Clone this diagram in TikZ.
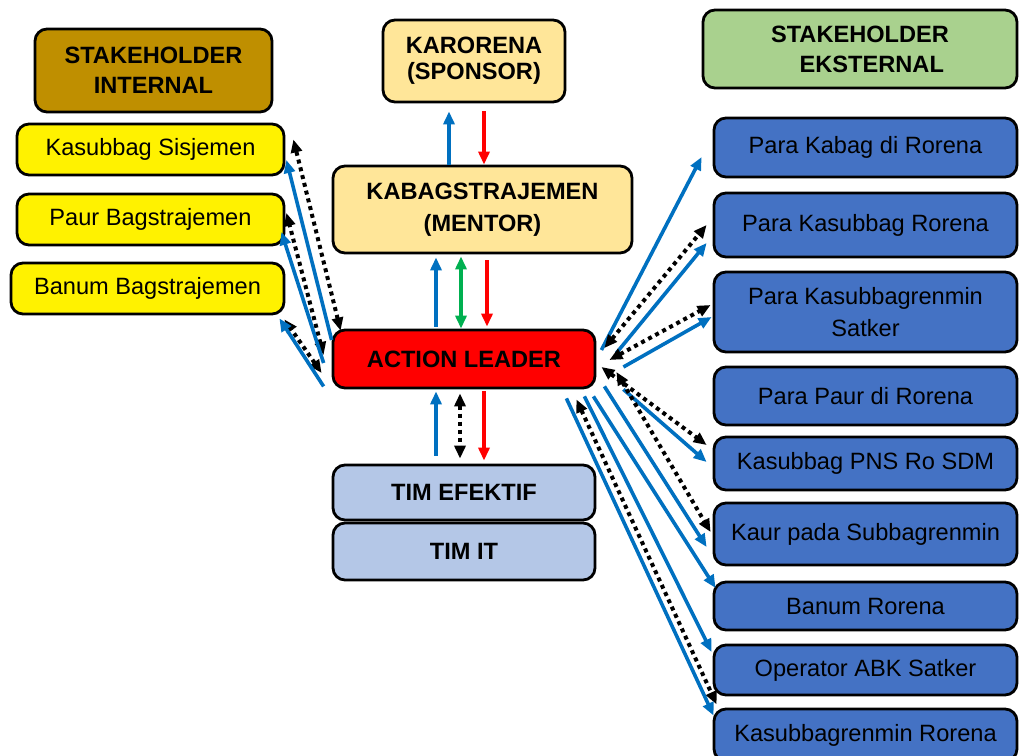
\documentclass[tikz,border=0pt]{standalone}
\usepackage{fontspec}
\setmainfont{Liberation Sans}
\usetikzlibrary{arrows.meta,calc}
\definecolor{brownhead}{HTML}{BF8F00}
\definecolor{greenhead}{HTML}{A9D18E}
\definecolor{peach}{HTML}{FFE699}
\definecolor{teamblue}{HTML}{B4C7E7}
\definecolor{extblue}{HTML}{4472C4}
\definecolor{arrblue}{HTML}{0070C0}
\definecolor{arrgreen}{HTML}{00B050}

\begin{document}
\begin{tikzpicture}[x=0.5pt,y=-0.5pt,
  box/.style={draw,line width=1.4pt,rounded corners=6pt,align=center,inner sep=0pt,
    font=\fontsize{11.8}{15}\selectfont},
  head/.style={box,font=\fontsize{11.8}{15}\selectfont\bfseries},
  intbox/.style={box,fill=yellow,minimum height=25.5pt},
  extbox/.style={box,fill=extblue,minimum width=151.5pt},
  tip/.style={-{Triangle[length=6.5pt,width=5.5pt]}},
  bluearr/.style={tip,line width=1.8pt,arrblue},
  redarr/.style={tip,line width=1.8pt,red},
  greenarr/.style={{Triangle[length=6.5pt,width=5.5pt]}-{Triangle[length=6.5pt,width=5.5pt]},line width=1.8pt,arrgreen},
  dotarr/.style={{Triangle[length=6.5pt,width=5.5pt]}-{Triangle[length=6.5pt,width=5.5pt]},line width=2pt,
    dash pattern=on 2pt off 2pt,black}]
  \useasboundingbox (0,0) rectangle (1021,755);

  \node[head,fill=brownhead,minimum width=118.5pt,minimum height=41.5pt] (hin) at (153.5,70.5) {STAKEHOLDER\\INTERNAL};
  \node[intbox,minimum width=133.5pt] (ks) at (150.5,149.5) {Kasubbag Sisjemen};
  \node[intbox,minimum width=133.5pt] (pb) at (150.5,219.5) {Paur Bagstrajemen};
  \node[intbox,minimum width=136.5pt] (bb) at (147.5,288.5) {Banum Bagstrajemen};

  \node[head,fill=peach,minimum width=91pt,minimum height=41pt,font=\fontsize{11.8}{13}\selectfont\bfseries] (spon) at (474,61) {KARORENA\\(SPONSOR)};
  \node[head,fill=peach,minimum width=149.5pt,minimum height=43.5pt,font=\fontsize{11.8}{17.5}\selectfont\bfseries] (ment) at (482.5,209.5) {\raisebox{-1.5pt}{KABAGSTRAJEMEN}\\(MENTOR)};
  \node[head,fill=red,minimum width=131pt,minimum height=29pt] (al) at (464,359) {ACTION LEADER};
  \node[head,fill=teamblue,minimum width=131pt,minimum height=27.5pt] (te) at (464,492.5) {TIM EFEKTIF};
  \node[head,fill=teamblue,minimum width=131pt,minimum height=28.5pt] (ti) at (464,551.5) {TIM IT};

  \node[head,fill=greenhead,minimum width=157pt,minimum height=39pt] (hek) at (860,49) {STAKEHOLDER\\\quad EKSTERNAL};
  \node[extbox,minimum height=29.5pt] (e1) at (865.5,147.5) {Para Kabag di Rorena};
  \node[extbox,minimum height=32pt] (e2) at (865.5,225) {Para Kasubbag Rorena};
  \node[extbox,minimum height=40pt,font=\fontsize{11.8}{16}\selectfont] (e3) at (865.5,312) {Para Kasubbagrenmin\\Satker};
  \node[extbox,minimum height=29pt] (e4) at (865.5,396) {Para Paur di Rorena};
  \node[extbox,minimum height=26.5pt] (e5) at (865.5,463.5) {Kasubbag PNS Ro SDM};
  \node[extbox,minimum height=31pt] (e6) at (865.5,534) {Kaur pada Subbagrenmin};
  \node[extbox,minimum height=24pt] (e7) at (865.5,606) {Banum Rorena};
  \node[extbox,minimum height=25pt] (e8) at (865.5,670) {Operator ABK Satker};
  \node[extbox,minimum height=26pt] (e9) at (865.5,735) {Kasubbagrenmin Rorena};

  \draw[bluearr] ($(ment.north)+(-33.5,0)$) -- ($(spon.south)+(-25,8)$);
  \draw[redarr] ($(spon.south)+(10,8)$) -- ($(ment.north)+(1.5,0)$);

  \draw[bluearr] ($(al.north)+(-28,-2)$) -- ($(ment.south)+(-46.5,3)$);
  \draw[greenarr] ($(ment.south)+(-21.5,2)$) -- ($(al.north)+(-3,0)$);
  \draw[redarr] ($(ment.south)+(4.5,6)$) -- ($(al.north)+(23,-2)$);

  \draw[bluearr] ($(te.north)+(-28,-8)$) -- ($(al.south)+(-28,2)$);
  \draw[dotarr] ($(al.south)+(-4,4)$) -- ($(te.north)+(-4,-5)$);
  \draw[redarr] ($(al.south)+(20,2)$) -- ($(te.north)+(20,-3)$);

  \draw[dotarr] ($(al.north west)+(9,2)$) -- ($(ks.east)+(8,-10)$);
  \draw[bluearr] ($(al.west)+(0,-19)$) -- ($(ks.east)+(1,10.5)$);
  \draw[dotarr] ($(al.west)+(-8,-4)$) -- ($(pb.east)+(1,-6.5)$);
  \draw[bluearr] ($(al.west)+(-8,4)$) -- ($(pb.east)+(-4,12.5)$);
  \draw[dotarr] ($(al.west)+(-10,14)$) -- ($(bb.south east)+(-1,4)$);
  \draw[bluearr] ($(al.south west)+(-8,-3)$) -- ($(bb.south east)+(-6,3)$);

  \draw[bluearr] ($(al.east)+(5,-9)$) -- ($(e1.west)+(-11,9.5)$);
  \draw[dotarr] ($(al.east)+(8,-11)$) -- ($(e2.west)+(-6,0)$);
  \draw[bluearr] ($(al.east)+(20,-6)$) -- ($(e2.west)+(-6,18)$);
  \draw[dotarr] ($(al.east)+(13,1)$) -- ($(e3.west)+(-2,-7)$);
  \draw[bluearr] ($(al.east)+(27,8)$) -- ($(e3.west)+(-1,5)$);
  \draw[dotarr] ($(al.east)+(5,8)$) -- ($(e5.west)+(-6,-18.5)$);
  \draw[bluearr] ($(al.south east)+(27,0)$) -- ($(e5.west)+(-6,-1.5)$);
  \draw[dotarr] ($(al.east)+(20,13)$) -- ($(e6.west)+(-2,-2)$);
  \draw[bluearr] ($(al.south east)+(8,-3)$) -- ($(e6.west)+(-6,13)$);
  \draw[bluearr] ($(al.south east)+(-3,7)$) -- ($(e7.west)+(3,-18)$);
  \draw[bluearr] ($(al.south east)+(-12,7)$) -- ($(e8.west)+(-1,-18)$);
  \draw[dotarr] ($(al.south east)+(-20,10)$) -- ($(e8.south west)+(4,8)$);
  \draw[bluearr] ($(al.south east)+(-30,9)$) -- ($(e9.north west)+(1,8)$);
\end{tikzpicture}
\end{document}
